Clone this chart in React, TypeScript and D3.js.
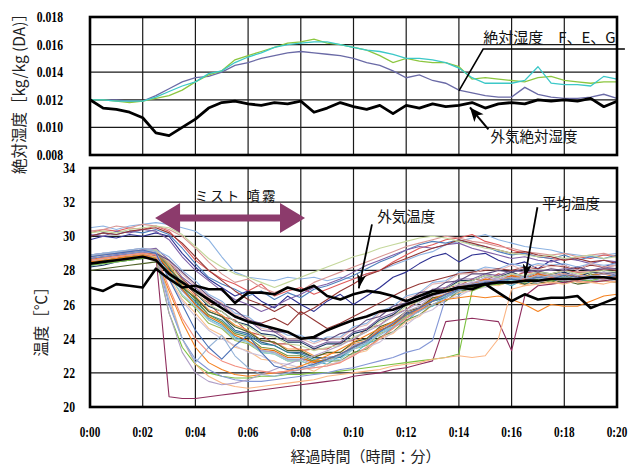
import React from 'react';
import * as d3 from 'd3';

// time axis (minutes), 30 s steps
const minutes = [
  0, 0.5, 1, 1.5, 2, 2.5, 3, 3.5, 4, 4.5, 5, 5.5, 6, 6.5, 7, 7.5, 8, 8.5, 9, 9.5,
  10, 10.5, 11, 11.5, 12, 12.5, 13, 13.5, 14, 14.5, 15, 15.5, 16, 16.5, 17, 17.5,
  18, 18.5, 19, 19.5, 20,
];
const timeTicks = [0, 2, 4, 6, 8, 10, 12, 14, 16, 18, 20];
const timeLabels = ['0:00', '0:02', '0:04', '0:06', '0:08', '0:10', '0:12', '0:14', '0:16', '0:18', '0:20'];
const humTicks = [0.008, 0.01, 0.012, 0.014, 0.016, 0.018];
const humLabels = ['0.008', '0.010', '0.012', '0.014', '0.016', '0.018'];
const tempTicks = [20, 22, 24, 26, 28, 30, 32, 34];

// absolute humidity [kg/kg(DA)]
const humOutside = [
  0.0120, 0.0114, 0.0113, 0.0111, 0.0107, 0.0096, 0.0094, 0.0100, 0.0106, 0.0114,
  0.0118, 0.0119, 0.0117, 0.0116, 0.0118, 0.0117, 0.0119, 0.0111, 0.0114, 0.0118,
  0.0115, 0.0113, 0.0116, 0.0110, 0.0116, 0.0114, 0.0117, 0.0115, 0.0116, 0.0118,
  0.0114, 0.0117, 0.0118, 0.0117, 0.0120, 0.0119, 0.0120, 0.0119, 0.0121, 0.0115,
  0.0119,
];
const humF = [
  0.0120, 0.0120, 0.0119, 0.0118, 0.0119, 0.0121, 0.0123, 0.0127, 0.0133, 0.0138,
  0.0141, 0.0149, 0.0152, 0.0155, 0.0158, 0.0161, 0.0162, 0.0164, 0.0161, 0.0160,
  0.0158, 0.0156, 0.0152, 0.0147, 0.0150, 0.0148, 0.0147, 0.0147, 0.0144, 0.0135,
  0.0136, 0.0135, 0.0134, 0.0133, 0.0136, 0.0137, 0.0134, 0.0133, 0.0132, 0.0133,
  0.0133,
];
const humE = [
  0.0120, 0.0120, 0.0119, 0.0119, 0.0119, 0.0122, 0.0126, 0.0130, 0.0133, 0.0139,
  0.0141, 0.0147, 0.0151, 0.0154, 0.0158, 0.0160, 0.0161, 0.0162, 0.0162, 0.0160,
  0.0158, 0.0156, 0.0155, 0.0153, 0.0150, 0.0150, 0.0149, 0.0147, 0.0143, 0.0136,
  0.0132, 0.0132, 0.0132, 0.0134, 0.0144, 0.0132, 0.0131, 0.0131, 0.0130, 0.0137,
  0.0135,
];
const humG = [
  0.0120, 0.0120, 0.0120, 0.0119, 0.0119, 0.0123, 0.0128, 0.0133, 0.0136, 0.0137,
  0.0140, 0.0145, 0.0147, 0.0150, 0.0152, 0.0154, 0.0155, 0.0154, 0.0153, 0.0152,
  0.0150, 0.0147, 0.0145, 0.0141, 0.0136, 0.0138, 0.0134, 0.0132, 0.0127, 0.0125,
  0.0123, 0.0122, 0.0122, 0.0129, 0.0124, 0.0122, 0.0121, 0.0121, 0.0122, 0.0124,
  0.0121,
];

// temperatures [°C]
const tempOutside = [
  27.0, 26.8, 27.2, 27.1, 27.0, 28.1, 27.5, 27.0, 27.1, 26.9,
  26.9, 26.1, 26.7, 26.7, 26.6, 27.0, 26.8, 27.1, 26.5, 26.3,
  26.6, 26.8, 26.7, 26.5, 26.2, 26.5, 26.8, 26.8, 27.0, 26.9,
  27.2, 26.7, 26.2, 26.6, 26.3, 26.4, 26.4, 26.5, 25.8, 26.1,
  26.4,
];
const tempAverage = [
  28.4, 28.5, 28.6, 28.7, 28.8, 28.6, 27.8, 27.3, 26.8, 26.3,
  25.8, 25.3, 25.0, 24.8, 24.6, 24.4, 24.0, 24.1, 24.5, 24.8,
  25.1, 25.3, 25.6, 25.7, 26.0, 26.3, 26.6, 26.8, 27.0, 27.1,
  27.2, 27.3, 27.3, 27.4, 27.4, 27.5, 27.5, 27.5, 27.6, 27.6,
  27.5,
];

// sensors that started warm (~30 °C)
const tempHigh = [
  [30.5, 30.6, 30.4, 30.6, 30.7, 30.8, 30.7, 30.5, 30.3, 29.8, 28.8, 27.9, 27.6, 27.5, 27.4, 27.6, 27.5, 27.6, 27.4, 27.6,
    27.5, 27.8, 28.0, 28.3, 28.6, 28.9, 29.1, 29.5, 29.7, 29.9, 30.1, 29.8, 29.6, 29.4, 29.3, 29.2, 29.0, 28.9, 28.8, 28.9, 29.0],
  [30.2, 30.4, 30.3, 30.5, 30.4, 30.6, 30.3, 29.5, 28.6, 28.0, 27.5, 27.2, 26.8, 27.2, 26.5, 26.8, 27.0, 26.6, 26.9, 27.2,
    27.5, 27.8, 28.0, 28.5, 28.9, 29.3, 29.5, 29.8, 29.9, 30.1, 29.7, 29.5, 29.2, 29.0, 28.8, 28.7, 28.6, 28.8, 28.7, 28.9, 28.8],
  [29.8, 30.0, 29.9, 30.1, 30.0, 30.2, 30.0, 29.0, 28.2, 27.5, 27.0, 26.5, 26.8, 26.2, 25.8, 26.5, 26.0, 25.6, 26.2, 26.6,
    26.0, 26.5, 27.0, 27.6, 27.9, 28.4, 28.8, 29.0, 28.5, 28.9, 29.0, 28.6, 28.3, 28.5, 28.1, 28.6, 28.3, 28.0, 28.4, 28.2, 28.5],
  [30.0, 30.2, 30.1, 30.3, 30.2, 30.4, 30.1, 29.3, 28.4, 27.6, 27.2, 26.9, 26.5, 26.8, 26.3, 26.7, 26.4, 26.9, 27.1, 27.4,
    27.7, 28.1, 28.5, 28.8, 29.2, 29.5, 29.7, 29.6, 29.8, 29.5, 29.4, 29.1, 28.9, 29.0, 28.8, 28.7, 28.9, 28.6, 28.8, 28.7, 28.9],
  [30.3, 30.4, 30.6, 30.5, 30.7, 30.6, 30.4, 30.0, 29.3, 28.5, 27.8, 27.3, 27.5, 27.0, 26.7, 27.0, 26.8, 27.3, 27.6, 27.9,
    28.2, 28.5, 28.8, 29.1, 29.4, 29.6, 29.8, 30.0, 29.9, 29.7, 29.6, 29.4, 29.3, 29.1, 29.0, 28.9, 29.0, 28.8, 28.9, 29.0, 28.8],
  [30.1, 30.0, 30.3, 30.2, 30.4, 30.3, 29.8, 28.8, 28.0, 27.4, 26.8, 26.3, 26.0, 25.6, 25.9, 26.3, 26.6, 27.0, 27.2, 27.5,
    27.9, 28.3, 28.6, 28.9, 29.2, 29.4, 29.3, 29.5, 29.6, 29.3, 29.1, 28.9, 28.7, 28.8, 28.6, 28.5, 28.7, 28.6, 28.4, 28.6, 28.5],
  [30.0, 30.2, 30.1, 30.3, 30.4, 30.5, 30.2, 29.6, 28.8, 28.0, 27.4, 26.8, 26.3, 26.0, 25.6, 26.0, 25.4, 25.8, 26.3, 26.8,
    27.2, 27.7, 28.0, 28.4, 28.7, 29.0, 29.3, 29.5, 29.8, 29.6, 29.4, 29.2, 29.0, 29.1, 28.9, 28.8, 28.6, 28.7, 28.5, 28.6, 28.4],
  [30.2, 30.3, 30.2, 30.4, 30.5, 30.6, 30.5, 30.1, 29.4, 28.7, 28.2, 27.8, 27.6, 27.3, 27.0, 27.3, 27.6, 27.9, 28.2, 28.5,
    28.8, 29.0, 29.3, 29.5, 29.7, 29.9, 30.0, 29.9, 29.7, 29.5, 29.3, 29.2, 29.0, 28.9, 28.8, 28.9, 28.7, 28.8, 28.9, 28.7, 28.8],
];
const highColors = ['#8db3e2', '#e05a5a', '#2e3192', '#4f81bd', '#d99694', '#7f60a8', '#953735', '#c4d79b'];

// main body of sensors
const tempMain = [
  [28.8, 28.9, 29.0, 29.1, 29.2, 29.1, 28.2, 27.0, 26.4, 25.6, 25.3, 24.5, 24.3, 23.8, 23.6, 23.2, 23.2, 22.9, 22.9, 23.0,
    23.6, 23.8, 24.5, 24.8, 25.5, 25.7, 26.3, 26.5, 27.0, 27.0, 27.4, 27.3, 27.6, 27.4, 27.7, 27.5, 27.8, 27.6, 27.7, 27.9, 27.7],
  [28.6, 28.7, 28.9, 28.8, 29.0, 29.1, 28.5, 27.4, 26.6, 26.1, 25.3, 25.1, 24.4, 24.2, 23.7, 23.7, 23.3, 23.4, 23.4, 23.8,
    23.9, 24.6, 24.8, 25.4, 25.7, 26.3, 26.5, 27.0, 27.1, 27.5, 27.4, 27.8, 27.6, 27.9, 27.8, 27.8, 28.0, 27.9, 27.9, 28.1, 28.0],
  [28.4, 28.5, 28.6, 28.8, 28.9, 28.8, 27.8, 26.5, 25.8, 24.9, 24.6, 23.9, 23.7, 23.2, 23.1, 22.7, 22.7, 22.4, 22.8, 22.9,
    23.4, 23.6, 24.3, 24.6, 25.3, 25.6, 26.2, 26.4, 26.9, 26.9, 27.3, 27.2, 27.5, 27.3, 27.5, 27.3, 27.6, 27.5, 27.3, 27.6, 27.5],
  [28.9, 29.0, 28.9, 29.1, 29.2, 29.3, 28.6, 27.6, 27.0, 26.3, 26.0, 25.3, 25.1, 24.5, 24.4, 23.9, 23.9, 23.5, 23.8, 23.8,
    24.4, 24.6, 25.2, 25.5, 26.1, 26.3, 26.9, 27.0, 27.5, 27.5, 27.8, 27.7, 28.0, 27.9, 28.0, 28.0, 28.1, 28.1, 28.0, 28.2, 28.1],
  [28.5, 28.6, 28.7, 28.9, 29.0, 29.0, 27.9, 26.8, 26.1, 25.2, 24.8, 24.1, 23.8, 23.3, 23.2, 22.8, 22.8, 22.7, 22.5, 23.0,
    23.1, 23.7, 24.0, 24.7, 25.0, 25.7, 25.9, 26.5, 26.6, 27.1, 27.1, 27.4, 27.1, 27.5, 27.2, 27.5, 27.3, 27.4, 27.4, 27.5, 27.6],
  [28.7, 28.8, 28.8, 29.0, 29.1, 29.2, 28.3, 27.2, 26.5, 25.7, 25.4, 24.8, 24.5, 23.9, 23.8, 23.4, 23.4, 23.0, 23.1, 23.2,
    23.7, 23.9, 24.6, 24.9, 25.6, 25.8, 26.4, 26.6, 27.1, 27.1, 27.5, 27.4, 27.7, 27.6, 27.7, 27.7, 27.8, 27.7, 27.9, 27.8, 27.9],
  [28.3, 28.4, 28.6, 28.7, 28.8, 28.9, 28.0, 26.9, 26.2, 25.4, 25.1, 24.4, 24.2, 23.7, 23.6, 23.2, 23.1, 22.8, 22.9, 22.9,
    23.5, 23.7, 24.4, 24.7, 25.4, 25.6, 26.2, 26.4, 26.9, 26.9, 27.3, 27.2, 27.5, 27.2, 27.5, 27.4, 27.5, 27.5, 27.4, 27.5, 27.4],
  [28.0, 28.1, 28.2, 28.3, 28.4, 28.5, 27.9, 27.0, 26.4, 25.6, 25.3, 24.7, 24.4, 23.9, 23.8, 23.3, 23.3, 22.9, 23.2, 23.2,
    23.8, 24.0, 24.7, 25.0, 25.6, 25.8, 26.4, 26.5, 27.0, 27.0, 27.3, 27.2, 27.3, 27.2, 27.3, 27.3, 27.4, 27.2, 27.3, 27.4, 27.3],
  [28.9, 29.0, 29.1, 29.2, 29.3, 29.2, 28.8, 28.0, 27.4, 26.6, 26.2, 25.5, 25.3, 24.7, 24.6, 24.2, 24.2, 23.8, 24.1, 24.1,
    24.7, 24.9, 25.6, 25.9, 26.5, 26.7, 27.3, 27.4, 27.9, 27.9, 28.2, 28.1, 28.4, 28.2, 28.4, 28.3, 28.4, 28.2, 28.4, 28.3, 28.4],
  [28.6, 28.7, 28.8, 28.9, 29.0, 29.1, 28.4, 27.5, 26.8, 26.2, 25.8, 25.3, 25.0, 24.9, 25.2, 24.8, 25.6, 25.1, 24.6, 24.9,
    25.3, 25.7, 26.1, 26.5, 26.9, 27.2, 27.4, 27.6, 27.8, 27.9, 28.0, 28.1, 28.0, 28.2, 28.1, 28.3, 28.2, 28.1, 28.3, 28.2, 28.3],
  [28.4, 28.5, 28.7, 28.8, 28.9, 28.9, 27.6, 26.3, 25.5, 24.6, 24.2, 23.5, 23.3, 22.8, 22.7, 22.3, 22.4, 22.1, 22.5, 22.6,
    23.1, 23.3, 24.0, 24.3, 25.0, 25.3, 26.0, 26.2, 26.7, 26.8, 27.2, 27.1, 27.4, 27.1, 27.5, 27.2, 27.6, 27.3, 27.3, 27.4, 27.3],
  [28.2, 28.3, 28.5, 28.6, 28.7, 28.8, 28.1, 27.3, 26.7, 25.9, 25.6, 25.0, 24.8, 24.3, 24.2, 23.8, 23.8, 23.4, 23.7, 23.7,
    24.3, 24.5, 25.1, 25.4, 26.0, 26.2, 26.8, 26.9, 27.4, 27.4, 27.7, 27.6, 27.9, 27.6, 27.9, 27.8, 27.9, 27.6, 27.9, 27.8, 27.9],
  [28.9, 29.0, 29.0, 29.2, 29.3, 29.2, 28.0, 26.8, 26.0, 25.1, 24.7, 24.0, 23.8, 23.3, 23.2, 22.8, 22.8, 22.5, 22.9, 23.0,
    23.6, 23.9, 24.6, 24.9, 25.6, 25.9, 26.5, 26.7, 27.2, 27.2, 27.6, 27.5, 27.8, 27.6, 27.9, 27.6, 28.0, 27.7, 27.7, 27.9, 27.8],
  [28.5, 28.6, 28.7, 28.8, 28.9, 29.0, 28.2, 27.1, 26.3, 25.4, 25.0, 24.3, 24.1, 23.5, 23.4, 23.0, 23.0, 22.7, 22.7, 22.7,
    23.2, 23.4, 24.1, 24.4, 25.1, 25.4, 26.0, 26.2, 26.8, 26.9, 27.3, 27.3, 27.6, 27.5, 27.6, 27.6, 27.7, 27.4, 27.8, 27.6, 27.7],
  [28.7, 28.8, 29.0, 29.1, 29.2, 29.1, 28.5, 27.8, 27.1, 26.4, 26.1, 25.4, 25.2, 24.6, 24.5, 24.0, 24.0, 23.7, 24.0, 24.0,
    24.6, 24.8, 25.5, 25.7, 26.4, 26.6, 27.2, 27.3, 27.8, 27.8, 28.1, 28.0, 28.3, 28.0, 28.3, 28.2, 28.3, 28.0, 28.4, 28.2, 28.3],
  [28.3, 28.4, 28.5, 28.7, 28.8, 28.8, 27.7, 26.6, 25.9, 25.1, 24.7, 24.0, 23.8, 23.2, 23.1, 22.7, 22.7, 22.4, 22.7, 22.8,
    23.4, 23.7, 24.4, 24.7, 25.4, 25.7, 26.3, 26.5, 27.0, 27.1, 27.4, 27.3, 27.4, 27.4, 27.5, 27.5, 27.6, 27.4, 27.6, 27.5, 27.4],
  [28.6, 28.8, 28.7, 28.9, 29.0, 29.0, 28.0, 26.9, 26.0, 25.3, 24.9, 24.2, 23.9, 23.4, 23.3, 22.9, 22.9, 22.6, 22.8, 23.1,
    23.5, 23.9, 24.5, 24.8, 25.4, 25.8, 26.3, 26.6, 27.0, 27.2, 27.5, 27.4, 27.7, 27.5, 27.8, 27.6, 27.8, 27.6, 27.7, 27.8, 27.6],
  [28.8, 28.9, 29.0, 29.1, 29.1, 29.2, 28.4, 27.4, 26.7, 26.0, 25.6, 25.0, 24.7, 24.2, 24.1, 23.7, 23.6, 23.3, 23.5, 23.6,
    24.1, 24.4, 25.0, 25.3, 25.9, 26.2, 26.7, 26.9, 27.3, 27.4, 27.7, 27.6, 27.8, 27.7, 27.9, 27.8, 28.0, 27.8, 27.9, 28.0, 27.9],
  [28.5, 28.7, 28.8, 28.9, 29.0, 29.1, 27.5, 26.2, 25.3, 24.5, 24.0, 23.6, 23.2, 23.0, 22.6, 22.5, 22.3, 22.3, 22.4, 22.7,
    23.0, 23.5, 23.8, 24.4, 24.8, 25.4, 25.7, 26.3, 26.5, 26.9, 27.0, 27.3, 27.2, 27.4, 27.3, 27.5, 27.4, 27.6, 27.4, 27.5, 27.4],
  [28.7, 28.8, 28.9, 29.0, 29.1, 29.0, 28.6, 27.9, 27.2, 26.5, 26.0, 25.7, 25.1, 24.9, 24.4, 24.4, 24.0, 24.1, 23.9, 24.3,
    24.5, 25.1, 25.3, 25.9, 26.1, 26.7, 26.8, 27.3, 27.4, 27.8, 27.8, 28.0, 27.9, 28.1, 27.9, 28.1, 28.0, 28.2, 28.0, 28.1, 28.1],
];
const mainColors = [
  '#376092', '#c0504d', '#9bbb59', '#8064a2', '#4bacc6', '#f79646', '#31859c', '#4f6228', '#8eb4e3', '#943634',
  '#fac08f', '#17375e', '#b3a2c7', '#77933c', '#e6b9b8', '#92cddc', '#e46c0a', '#c3d69b', '#ccc1da', '#5f497a',
];

// sensors hit directly by the mist (sharp drop)
const tempMisted = [
  [28.4, 28.5, 28.6, 28.7, 28.8, 28.9, 20.6, 20.5, 20.5, 20.6, 20.7, 20.8, 20.9, 21.0, 21.1, 21.2, 21.3, 21.4, 21.5, 21.6,
    21.8, 21.9, 22.0, 22.2, 22.3, 22.5, 22.7, 25.0, 25.1, 25.2, 25.1, 25.0, 23.3, 26.5, 27.1, 27.2, 27.3, 27.4, 27.3, 27.4, 27.5],
  [28.3, 28.4, 28.5, 28.6, 28.7, 28.8, 25.5, 23.5, 22.5, 22.0, 21.8, 21.7, 21.7, 21.8, 21.8, 21.9, 21.9, 22.0, 22.0, 22.1,
    22.2, 22.3, 22.4, 22.5, 22.6, 22.7, 22.8, 22.9, 23.1, 26.8, 27.1, 27.2, 27.3, 27.4, 27.5, 27.4, 27.6, 27.5, 27.4, 27.6, 27.5],
  [28.6, 28.7, 28.8, 28.9, 29.0, 28.8, 26.5, 24.0, 22.5, 21.8, 21.4, 21.2, 21.1, 21.2, 21.3, 21.4, 21.5, 21.6, 21.8, 21.9,
    22.0, 22.1, 22.2, 22.4, 22.5, 22.6, 22.8, 22.9, 23.0, 22.9, 23.0, 24.0, 26.9, 27.1, 27.2, 27.3, 27.2, 27.4, 27.3, 27.2, 27.4],
  [28.7, 28.8, 28.9, 29.0, 29.1, 29.0, 26.0, 24.0, 22.8, 22.2, 21.8, 21.6, 21.5, 21.5, 21.6, 21.7, 21.8, 21.9, 22.0, 22.2,
    22.3, 22.5, 22.7, 22.9, 23.2, 23.4, 23.9, 26.4, 27.0, 27.2, 27.3, 27.4, 27.3, 27.5, 27.4, 27.6, 27.5, 27.4, 27.6, 27.5, 27.6],
  [28.5, 28.6, 28.7, 28.8, 28.9, 28.7, 26.8, 25.0, 23.5, 22.6, 22.2, 21.9, 21.8, 21.9, 22.0, 22.1, 22.4, 22.7, 23.0, 23.4,
    23.8, 24.2, 24.6, 25.0, 25.4, 25.7, 26.0, 26.3, 26.4, 26.5, 26.4, 26.5, 26.3, 26.0, 25.6, 26.0, 25.9, 25.9, 26.2, 26.5, 26.6],
  [28.8, 28.9, 29.0, 29.1, 29.2, 29.0, 25.5, 23.2, 22.0, 21.5, 21.3, 21.4, 21.6, 21.9, 22.2, 22.5, 22.8, 23.0, 23.3, 23.6,
    24.0, 24.4, 24.8, 25.3, 25.7, 26.1, 26.5, 26.8, 27.1, 27.3, 27.4, 27.5, 27.6, 27.5, 27.7, 27.6, 27.8, 27.7, 27.6, 27.8, 27.7],
  [28.9, 29.0, 29.1, 29.2, 29.3, 29.1, 26.2, 24.0, 22.6, 23.5, 24.2, 23.0, 22.3, 21.9, 21.8, 22.0, 22.2, 22.4, 22.7, 23.0,
    23.4, 23.8, 24.2, 24.7, 25.2, 25.6, 26.0, 26.4, 26.8, 27.1, 27.3, 27.4, 27.5, 27.6, 27.5, 27.7, 27.6, 27.5, 27.7, 27.6, 27.7],
  [28.6, 28.7, 28.8, 28.9, 29.0, 28.9, 27.0, 25.2, 24.0, 23.2, 22.7, 22.4, 22.2, 22.1, 22.0, 22.1, 22.2, 22.3, 22.4, 22.6,
    23.0, 23.5, 24.0, 24.6, 25.2, 25.7, 26.2, 26.6, 26.9, 27.1, 27.3, 27.4, 27.3, 27.5, 27.4, 27.6, 27.5, 27.4, 27.6, 27.5, 27.6],
  [28.8, 28.9, 29.0, 29.1, 29.2, 29.0, 27.5, 26.0, 24.5, 23.5, 22.8, 23.6, 24.2, 23.2, 22.4, 22.2, 22.3, 22.5, 22.8, 23.1,
    23.5, 23.9, 24.4, 24.9, 25.4, 25.8, 26.2, 26.6, 26.9, 27.1, 27.3, 27.4, 27.5, 27.4, 27.6, 27.5, 27.7, 27.6, 27.5, 27.6, 27.7],
];
const mistedColors = ['#8e2c5c', '#7dc242', '#fbb584', '#8497d6', '#f58220', '#b1a0c7', '#95b3d7', '#f28e7f', '#4a6fb5'];

const W = 632;
const H = 468;
const LEFT = 90;
const RIGHT = 617;
const HUM_BOX = { top: 17, bottom: 155 };
const TEMP_BOX = { top: 168, bottom: 407 };

const JP = '"Noto Sans CJK JP", "Noto Sans", sans-serif';
const NUM = '"Liberation Serif", "DejaVu Serif", serif';
const MIST = '#8c3b6c';

const x = d3.scaleLinear().domain([0, 20]).range([LEFT, RIGHT]);
const yH = d3.scaleLinear().domain([0.008, 0.018]).range([HUM_BOX.bottom, HUM_BOX.top]);
const yT = d3.scaleLinear().domain([20, 34]).range([TEMP_BOX.bottom, TEMP_BOX.top]);

const humLine = d3
  .line<number>()
  .x((_d, i) => x(minutes[i]))
  .y(d => yH(d));
const tempLine = d3
  .line<number>()
  .x((_d, i) => x(minutes[i]))
  .y(d => yT(d));

/** filled arrow head at (x2,y2) pointing away from (x1,y1) */
function arrowHead(x1: number, y1: number, x2: number, y2: number, len: number, half: number) {
  const dx = x2 - x1;
  const dy = y2 - y1;
  const l = Math.hypot(dx, dy);
  const ux = dx / l;
  const uy = dy / l;
  const bx = x2 - ux * len;
  const by = y2 - uy * len;
  const nx = bx + ux * len * 0.25;
  const ny = by + uy * len * 0.25;
  return `${x2},${y2} ${bx - uy * half},${by + ux * half} ${nx},${ny} ${bx + uy * half},${by - ux * half}`;
}

const Grid: React.FC<{ yTicks: number[]; y: d3.ScaleLinear<number, number>; top: number; bottom: number }> = ({
  yTicks,
  y,
  top,
  bottom,
}) => (
  <g stroke="#1a1a1a" strokeWidth={1.2}>
    {timeTicks.slice(1, -1).map(t => (
      <line key={`v${t}`} x1={x(t)} x2={x(t)} y1={top} y2={bottom} />
    ))}
    {yTicks.slice(1, -1).map(v => (
      <line key={`h${v}`} x1={LEFT} x2={RIGHT} y1={y(v)} y2={y(v)} />
    ))}
  </g>
);

const App: React.FC = () => {
  const annoStroke = { stroke: '#000', strokeWidth: 1.6, fill: 'none' };

  // annotation anchors, in data units
  const feg = { t: 14.92, h: 0.01612, lineH: 0.01568, endT: 20.3, tipT: 14.0, tipH: 0.01264 };
  const out = { t: 15.2, h: 0.00894, fromT: 15.12, fromH: 0.00985, tipT: 14.42, tipH: 0.01145 };
  const outT = { t: 10.9, v: 30.84, fromT: 10.7, fromV: 30.7, tipT: 10.2, tipV: 26.95 };
  const avgT = { t: 17.15, v: 31.6, fromT: 16.98, fromV: 31.7, tipT: 16.5, tipV: 27.55 };
  const mist = { from: 2.47, to: 8.16, v: 31.07, labelT: 3.98, labelV: 32.07 };

  const ax1 = x(mist.from);
  const ax2 = x(mist.to);
  const ay = yT(mist.v);
  const mistArrow = [
    [ax1, ay],
    [ax1 + 25, ay - 15],
    [ax1 + 25, ay - 3.5],
    [ax2 - 25, ay - 3.5],
    [ax2 - 25, ay - 15],
    [ax2, ay],
    [ax2 - 25, ay + 15],
    [ax2 - 25, ay + 3.5],
    [ax1 + 25, ay + 3.5],
    [ax1 + 25, ay + 15],
  ]
    .map(p => p.join(','))
    .join(' ');

  return (
    <svg
      width={W}
      height={H}
      viewBox={`0 0 ${W} ${H}`}
      style={{ position: 'absolute', left: 0, top: 0, background: '#fff' }}
    >
      <rect width={W} height={H} fill="#fff" />

      {/* ---------- humidity panel ---------- */}
      <Grid yTicks={humTicks} y={yH} top={HUM_BOX.top} bottom={HUM_BOX.bottom} />
      <path d={humLine(humG) || ''} fill="none" stroke="#6a6aa6" strokeWidth={1.3} />
      <path d={humLine(humF) || ''} fill="none" stroke="#8cc63f" strokeWidth={1.3} />
      <path d={humLine(humE) || ''} fill="none" stroke="#3cc8c8" strokeWidth={1.3} />
      <path d={humLine(humOutside) || ''} fill="none" stroke="#000" strokeWidth={2.8} strokeLinejoin="round" />
      <rect
        x={LEFT}
        y={HUM_BOX.top}
        width={RIGHT - LEFT}
        height={HUM_BOX.bottom - HUM_BOX.top}
        fill="none"
        stroke="#000"
        strokeWidth={2.6}
      />
      {humTicks.map((v, i) => (
        <text
          key={v}
          transform={`translate(63,${yH(v) + 5}) scale(0.78,1)`}
          textAnchor="end"
          fontFamily={NUM}
          fontWeight="bold"
          fontSize={15}
        >
          {humLabels[i]}
        </text>
      ))}
      <text
        transform={`translate(25,${(HUM_BOX.top + HUM_BOX.bottom) / 2 + 4}) rotate(-90)`}
        textAnchor="middle"
        fontFamily={JP}
        fontSize={15.5}
        fill="#222"
      >
        絶対湿度［kg/kg (DA)］
      </text>

      {/* F, E, G leader */}
      <text x={x(feg.t)} y={yH(feg.h)} fontFamily={JP} fontSize={15} fill="#111">
        絶対湿度　F、E、G
      </text>
      <polyline
        points={`${x(feg.endT)},${yH(feg.lineH)} ${x(feg.t)},${yH(feg.lineH)} ${x(feg.tipT)},${yH(feg.tipH)}`}
        {...annoStroke}
      />
      {/* outside absolute humidity */}
      <text x={x(out.t)} y={yH(out.h)} fontFamily={JP} fontSize={14.5} fill="#111">
        外気絶対湿度
      </text>
      <line x1={x(out.fromT)} y1={yH(out.fromH)} x2={x(out.tipT)} y2={yH(out.tipH)} stroke="#000" strokeWidth={2} />
      <polygon
        points={arrowHead(x(out.fromT), yH(out.fromH), x(out.tipT), yH(out.tipH), 14, 6)}
        fill="#000"
      />

      {/* ---------- temperature panel ---------- */}
      <Grid yTicks={tempTicks} y={yT} top={TEMP_BOX.top} bottom={TEMP_BOX.bottom} />
      <g fill="none" strokeWidth={1.1} strokeLinejoin="round">
        {tempHigh.map((s, i) => (
          <path key={`h${i}`} d={tempLine(s) || ''} stroke={highColors[i]} />
        ))}
        {tempMain.map((s, i) => (
          <path key={`m${i}`} d={tempLine(s) || ''} stroke={mainColors[i]} />
        ))}
        {tempMisted.map((s, i) => (
          <path key={`c${i}`} d={tempLine(s) || ''} stroke={mistedColors[i]} />
        ))}
      </g>
      <path d={tempLine(tempAverage) || ''} fill="none" stroke="#000" strokeWidth={2.6} strokeLinejoin="round" />
      <path d={tempLine(tempOutside) || ''} fill="none" stroke="#000" strokeWidth={2.6} strokeLinejoin="round" />
      <rect
        x={LEFT}
        y={TEMP_BOX.top}
        width={RIGHT - LEFT}
        height={TEMP_BOX.bottom - TEMP_BOX.top}
        fill="none"
        stroke="#000"
        strokeWidth={2.6}
      />
      {tempTicks.map(v => (
        <text
          key={v}
          transform={`translate(75,${yT(v) + 5}) scale(0.78,1)`}
          textAnchor="end"
          fontFamily={NUM}
          fontWeight="bold"
          fontSize={15}
        >
          {v}
        </text>
      ))}
      <text
        transform={`translate(47,318) rotate(-90)`}
        textAnchor="middle"
        fontFamily={JP}
        fontSize={15.5}
        fill="#222"
      >
        温度［℃］
      </text>

      {/* mist period */}
      <polygon points={mistArrow} fill={MIST} />
      <text x={x(mist.labelT)} y={yT(mist.labelV)} fontFamily={JP} fontSize={13.5} letterSpacing={2} fill="#111">
        ミスト 噴霧
      </text>

      <text x={x(outT.t)} y={yT(outT.v)} fontFamily={JP} fontSize={14.5} fill="#111">
        外気温度
      </text>
      <line x1={x(outT.fromT)} y1={yT(outT.fromV)} x2={x(outT.tipT)} y2={yT(outT.tipV)} stroke="#000" strokeWidth={1.8} />
      <polygon points={arrowHead(x(outT.fromT), yT(outT.fromV), x(outT.tipT), yT(outT.tipV), 14, 4.5)} fill="#000" />

      <text x={x(avgT.t)} y={yT(avgT.v)} fontFamily={JP} fontSize={14.5} fill="#111">
        平均温度
      </text>
      <line x1={x(avgT.fromT)} y1={yT(avgT.fromV)} x2={x(avgT.tipT)} y2={yT(avgT.tipV)} stroke="#000" strokeWidth={1.8} />
      <polygon points={arrowHead(x(avgT.fromT), yT(avgT.fromV), x(avgT.tipT), yT(avgT.tipV), 14, 4.5)} fill="#000" />

      {/* time axis */}
      {timeTicks.map((t, i) => (
        <text
          key={t}
          transform={`translate(${x(t)},437) scale(0.8,1)`}
          textAnchor="middle"
          fontFamily={NUM}
          fontWeight="bold"
          fontSize={14}
        >
          {timeLabels[i]}
        </text>
      ))}
      <text x={(LEFT + RIGHT) / 2 + 12} y={462} textAnchor="middle" fontFamily={JP} fontSize={15} fill="#222">
        経過時間（時間：分）
      </text>
    </svg>
  );
};

export default App;
